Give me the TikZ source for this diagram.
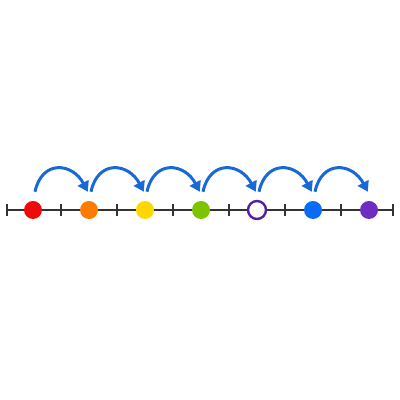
\documentclass[tikz,border=0pt]{standalone}
\usepackage{tikz}
\usetikzlibrary{arrows.meta, positioning}

\definecolor{dotred}{HTML}{EE0A0A}
\definecolor{dotorange}{HTML}{FF7A00}
\definecolor{dotyellow}{HTML}{FFD700}
\definecolor{dotgreen}{HTML}{7CC400}
\definecolor{dotblue}{HTML}{0A6CF5}
\definecolor{dotpurple}{HTML}{6E2DBE}
\definecolor{hollowpurple}{HTML}{5420A0}
\definecolor{hopblue}{HTML}{1769D8}
\definecolor{axisgray}{HTML}{333333}

\tikzset{
    dot/.style={circle, minimum size=0.45cm, inner sep=0pt},
    hop/.style={-{Triangle[length=0.25cm, width=0.3cm]}, line width=0.075cm, hopblue, out=78, in=118, looseness=1.6}
}

\begin{document}
\begin{tikzpicture}
    \useasboundingbox (0,0) rectangle (10,10);

    % 数轴
    \draw[axisgray, line width=0.05cm] (0.175,4.75) -- (9.825,4.75);
    \foreach \x in {0.175, 1.525, 2.925, 4.325, 5.725, 7.125, 8.525, 9.825} {
        \draw[axisgray, line width=0.05cm] (\x,4.61) -- (\x,4.89);
    }

    % 点
    \foreach \c [count=\i] in {dotred, dotorange, dotyellow, dotgreen, white, dotblue, dotpurple} {
        \node[dot, fill=\c] (d\i) at (0.825+\i*1.4-1.4,4.75) {};
    }
    \node[dot, draw=hollowpurple, line width=0.06cm, fill=white] at (d5) {};

    % 跳跃箭头
    \foreach \i [evaluate=\i as \j using int(\i+1)] in {1,...,6} {
        \draw[hop] ([xshift=0.05cm, yshift=0.225cm]d\i.north) to ([xshift=-0.03cm, yshift=0.225cm]d\j.north);
    }
\end{tikzpicture}
\end{document}
